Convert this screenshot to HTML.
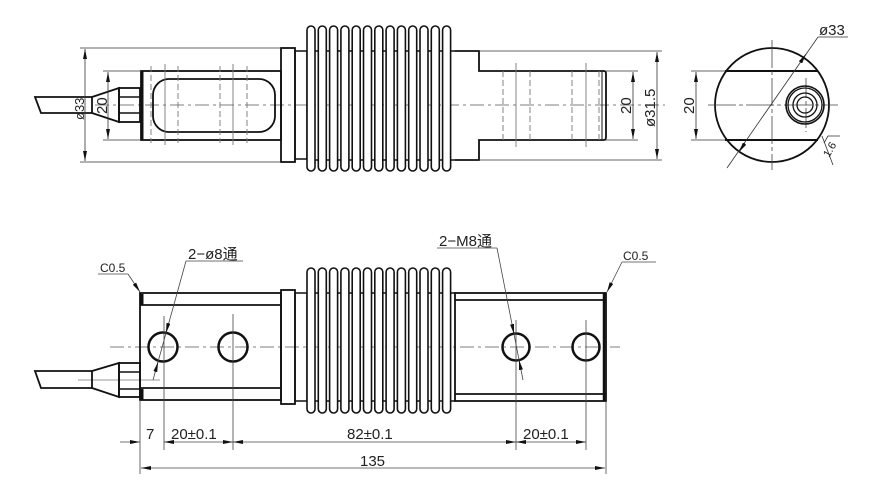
<!DOCTYPE html>
<html><head><meta charset="utf-8"><style>
html,body{margin:0;padding:0;background:#fff;}
svg{display:block;}
text{font-family:"Liberation Sans","Noto Sans CJK SC",sans-serif;fill:#222;}
</style></head><body>
<svg id="s" width="873" height="494" viewBox="0 0 873 494" xmlns="http://www.w3.org/2000/svg">
<defs>
<marker id="a" viewBox="0 0 10 4" refX="10" refY="2" markerWidth="10" markerHeight="4" orient="auto-start-reverse" markerUnits="userSpaceOnUse"><path d="M0,0 L10,2 L0,4z" fill="#111"/></marker>
</defs>
<g fill="none" stroke="#111" stroke-width="1">
<line x1="95" y1="105" x2="665" y2="105" stroke="#555" stroke-width="0.8" stroke-dasharray="14,4,3,4"/>
<path d="M35,97 L92,97 L92,113 L41,113 Z" stroke-width="1.8"/>
<path d="M92,97 L119,88 L119,122 L92,113" stroke-width="1.8"/>
<rect x="119" y="88" width="21" height="34" stroke-width="1.8"/>
<line x1="119" y1="97" x2="140" y2="97" stroke-width="1.5"/>
<line x1="119" y1="113" x2="140" y2="113" stroke-width="1.5"/>
<rect x="141" y="71" width="140" height="69" stroke-width="1.8"/>
<line x1="142" y1="71" x2="142" y2="140" stroke-width="3"/>
<rect x="153" y="79" width="122" height="53" rx="16" stroke-width="1.8"/>
<g stroke="#777" stroke-width="0.9" stroke-dasharray="6,3">
<line x1="151" y1="66" x2="151" y2="143"/><line x1="178" y1="66" x2="178" y2="143"/>
<line x1="220" y1="66" x2="220" y2="143"/><line x1="247" y1="66" x2="247" y2="143"/>
</g>
<g stroke="#777" stroke-width="0.9"><line x1="165" y1="64" x2="165" y2="145"/><line x1="233" y1="64" x2="233" y2="145"/></g>
<rect x="281" y="48" width="14" height="114" stroke-width="1.8"/>
<rect x="295" y="51" width="12" height="108" stroke-width="1.5"/>
<path d="M455,51 L479,51 L479,71 L604,71 Q606,71 606,74 L606,137 Q606,140 604,140 L479,140 L479,160 L455,160" stroke-width="1.8"/>
<line x1="602" y1="72" x2="602" y2="139" stroke-width="1"/>
<g stroke="#777" stroke-width="0.9" stroke-dasharray="6,3">
<line x1="503" y1="71" x2="503" y2="140"/><line x1="530" y1="71" x2="530" y2="140"/>
<line x1="572" y1="71" x2="572" y2="140"/><line x1="599" y1="71" x2="599" y2="140"/>
</g>
<g stroke="#777" stroke-width="0.9"><line x1="516" y1="63" x2="516" y2="147"/><line x1="586" y1="63" x2="586" y2="147"/></g>
<g id="fins1"></g>
<g stroke="#333" stroke-width="0.8">
<line x1="80" y1="48" x2="281" y2="48"/><line x1="80" y1="162" x2="281" y2="162"/>
<line x1="103" y1="71" x2="141" y2="71"/><line x1="103" y1="140" x2="141" y2="140"/>
<line x1="85" y1="49" x2="85" y2="161" marker-start="url(#a)" marker-end="url(#a)"/>
<line x1="108" y1="72" x2="108" y2="139" marker-start="url(#a)" marker-end="url(#a)"/>
<line x1="606" y1="71" x2="638" y2="71"/><line x1="606" y1="140" x2="638" y2="140"/>
<line x1="479" y1="51" x2="662" y2="51"/><line x1="479" y1="160" x2="662" y2="160"/>
<line x1="633" y1="72" x2="633" y2="139" marker-start="url(#a)" marker-end="url(#a)"/>
<line x1="657" y1="52" x2="657" y2="159" marker-start="url(#a)" marker-end="url(#a)"/>
</g>
<circle cx="772" cy="105" r="57" stroke-width="1.8"/>
<line x1="725" y1="71" x2="818" y2="71" stroke-width="2"/>
<line x1="725" y1="140" x2="818" y2="140" stroke-width="2"/>
<g stroke="#444" stroke-width="0.8">
<line x1="708" y1="105" x2="838" y2="105" stroke-dasharray="28,3,4,3"/>
<line x1="772" y1="40" x2="772" y2="170" stroke-dasharray="28,3,4,3"/>
<line x1="806" y1="78" x2="806" y2="132" stroke-dasharray="20,3,4,3"/>
</g>
<circle cx="805" cy="105" r="19" stroke-width="1.6"/>
<circle cx="805" cy="105" r="17" stroke-width="1.3"/>
<circle cx="805" cy="105" r="12" stroke-width="1.3"/>
<circle cx="805" cy="105" r="8" stroke-width="1.3"/>
<g stroke="#333" stroke-width="0.8">
<line x1="727" y1="168" x2="818" y2="37"/>
<line x1="800" y1="63" x2="806" y2="54" marker-end="url(#a)"/>
<line x1="745" y1="143" x2="739" y2="152" marker-end="url(#a)"/>
<line x1="818" y1="37" x2="848" y2="37"/>
<line x1="691" y1="71" x2="725" y2="71"/><line x1="691" y1="140" x2="725" y2="140"/>
<line x1="696" y1="72" x2="696" y2="139" marker-start="url(#a)" marker-end="url(#a)"/>
<path d="M822,136 L833,165 M824,143 L828,136 L840,136"/>
</g>
<line x1="110" y1="347" x2="620" y2="347" stroke="#555" stroke-width="0.8" stroke-dasharray="14,4,3,4"/>
<line x1="78" y1="380" x2="160" y2="380" stroke="#777" stroke-width="0.8"/>
<path d="M35,371 L92,371 L92,388 L41,388 Z" stroke-width="1.8"/>
<path d="M92,371 L119,363 L119,397 L92,388" stroke-width="1.8"/>
<rect x="119" y="363" width="21" height="34" stroke-width="1.8"/>
<line x1="119" y1="372" x2="140" y2="372" stroke-width="1.5"/>
<line x1="119" y1="389" x2="140" y2="389" stroke-width="1.5"/>
<rect x="140" y="293" width="141" height="107" stroke-width="1.8"/>
<line x1="140" y1="305" x2="281" y2="305" stroke-width="1.8"/>
<line x1="140" y1="388" x2="281" y2="388" stroke-width="1.8"/>
<line x1="142" y1="294" x2="142" y2="305" stroke-width="3"/>
<line x1="142" y1="389" x2="142" y2="400" stroke-width="3"/>
<circle cx="163" cy="347" r="14.5" stroke-width="2.5"/>
<circle cx="233" cy="347" r="14.5" stroke-width="2.5"/>
<rect x="281" y="290" width="14" height="114" stroke-width="1.8"/>
<rect x="295" y="293" width="12" height="108" stroke-width="1.5"/>
<rect x="455" y="293" width="151" height="108" stroke-width="1.8"/>
<line x1="455" y1="300" x2="606" y2="300" stroke-width="1.8"/>
<line x1="455" y1="394" x2="606" y2="394" stroke-width="1.8"/>
<line x1="604" y1="293" x2="604" y2="401" stroke-width="2.5"/>
<circle cx="516" cy="347" r="13.5" stroke-width="2.5"/>
<circle cx="586" cy="347" r="13.5" stroke-width="2.5"/>
<g id="fins2"></g>
<g stroke="#444" stroke-width="0.8">
<line x1="164" y1="316" x2="164" y2="450"/>
<line x1="233" y1="314" x2="233" y2="450"/>
<line x1="516" y1="320" x2="516" y2="450"/>
<line x1="586" y1="320" x2="586" y2="450"/>
<line x1="140" y1="400" x2="140" y2="474"/>
<line x1="606" y1="401" x2="606" y2="474"/>
<line x1="120" y1="442" x2="140" y2="442" marker-end="url(#a)"/>
<line x1="164" y1="442" x2="233" y2="442" marker-start="url(#a)" marker-end="url(#a)"/>
<line x1="233" y1="442" x2="516" y2="442" marker-start="url(#a)" marker-end="url(#a)"/>
<line x1="516" y1="442" x2="586" y2="442" marker-start="url(#a)" marker-end="url(#a)"/>
<line x1="141" y1="468" x2="605" y2="468" marker-start="url(#a)" marker-end="url(#a)"/>
<line x1="98" y1="274" x2="128" y2="274"/>
<line x1="128" y1="274" x2="140" y2="292" marker-end="url(#a)"/>
<line x1="186" y1="261" x2="243" y2="261"/>
<line x1="186" y1="261" x2="153" y2="380"/>
<line x1="168.5" y1="323" x2="166" y2="333" marker-end="url(#a)"/>
<line x1="155.2" y1="372" x2="158" y2="362" marker-end="url(#a)"/>
<line x1="437" y1="248" x2="497" y2="248"/>
<line x1="497" y1="248" x2="523" y2="380"/>
<line x1="512" y1="324" x2="514" y2="334" marker-end="url(#a)"/>
<line x1="521" y1="370" x2="519" y2="360" marker-end="url(#a)"/>
<line x1="622" y1="262" x2="656" y2="262"/>
<line x1="622" y1="262" x2="607" y2="292" marker-end="url(#a)"/>
</g>
</g>
<g font-size="15">
<text x="0" y="0" transform="translate(84,120) rotate(-90)" font-size="13">ø33</text>
<text x="0" y="0" transform="translate(107,114) rotate(-90)">20</text>
<text x="0" y="0" transform="translate(631,114) rotate(-90)">20</text>
<text x="0" y="0" transform="translate(655,127) rotate(-90)">ø31.5</text>
<text x="0" y="0" transform="translate(694,114) rotate(-90)">20</text>
<text x="819" y="35">ø33</text>
<text x="0" y="0" transform="translate(829,158) rotate(-60)" font-size="11">1.6</text>
<text x="100" y="272" font-family="Liberation Mono,monospace" font-size="12">C0.5</text>
<text x="623" y="260" font-family="Liberation Mono,monospace" font-size="12">C0.5</text>
<text x="188" y="259">2−ø8通</text>
<text x="439" y="246">2−M8通</text>
<text x="146" y="439">7</text>
<text x="171" y="439">20±0.1</text>
<text x="347" y="439">82±0.1</text>
<text x="523" y="439">20±0.1</text>
<text x="360" y="466">135</text>
</g>
</svg>
<script>
function fins(id,top,bot,b1,b2){
 var g=document.getElementById(id),s='';
 var n=13,x0=307,p=11.3,w=8;
 for(var i=0;i<n;i++){
  var x=x0+i*p;
  s+='<rect x="'+x.toFixed(1)+'" y="'+top+'" width="'+w+'" height="'+(bot-top)+'" rx="4" fill="#fff" stroke="#111" stroke-width="1.6"/>';
  if(i<n-1){
   s+='<path d="M'+(x+w).toFixed(1)+','+b1+' h'+(p-w).toFixed(1)+' M'+(x+w).toFixed(1)+','+b2+' h'+(p-w).toFixed(1)+'" stroke="#111" stroke-width="1.6"/>';
  }
 }
 s+='<path d="M'+(x0+n*p-p+w).toFixed(1)+','+b1+' H455 M'+(x0+n*p-p+w).toFixed(1)+','+b2+' H455" stroke="#111" stroke-width="1.6"/>';
 g.innerHTML=s;
}
fins('fins1',26,171,51,160);
fins('fins2',268,413,293,401);
</script>
</body></html>
